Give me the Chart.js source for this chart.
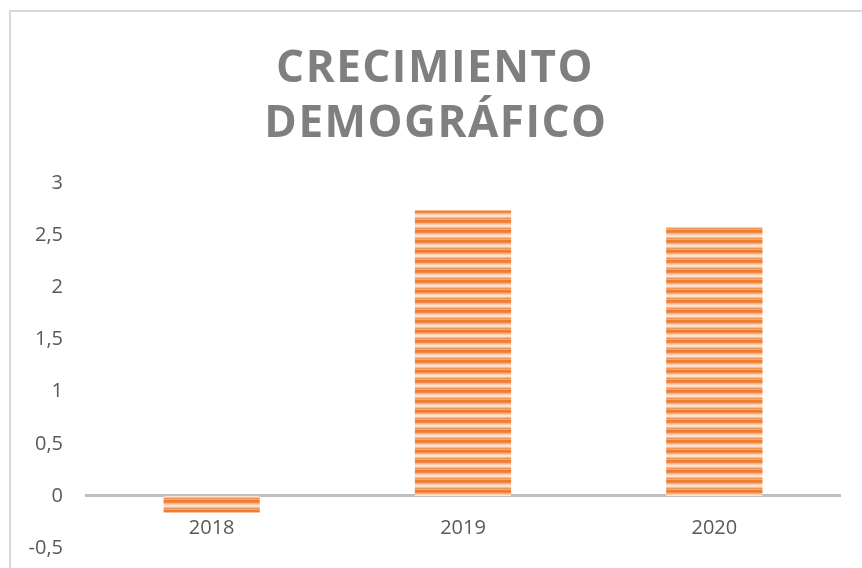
<!DOCTYPE html>
<html>
<head>
<meta charset="utf-8">
<script src="https://cdn.jsdelivr.net/npm/chart.js@4.4.0/dist/chart.umd.min.js"></script>
<style>
    html, body { margin: 0; padding: 0; background: #ffffff; overflow: hidden; }
    #wrap { position: relative; width: 862px; height: 568px; overflow: hidden; }
</style>
</head>
<body>
<div id="wrap"><canvas id="myChart" width="862" height="583"></canvas></div>
<script>
const years = ['2018', '2019', '2020'];
const growth = [-0.16, 2.74, 2.58];
const yTickLabels = ['-0,5', '0', '0,5', '1', '1,5', '2', '2,5', '3'];
const titleLines = ['CRECIMIENTO', 'DEMOGRÁFICO'];

document.addEventListener("DOMContentLoaded", function () {
    const ctx = document.getElementById('myChart');

    // striped fill like the excel texture
    function stripePattern() {
        let c = document.createElement('canvas');
        c.width = 4;
        c.height = 10;
        let g = c.getContext('2d');
        let rows = ['#ED7D31', '#ED7D31', '#EF8A48', '#F4B183', '#F8CBAD',
                    '#FBE5D6', '#FBE2D0', '#F6BD96', '#F09555', '#F4A974'];
        rows.forEach((col, i) => {
            g.fillStyle = col;
            g.fillRect(0, i, 4, 1);
        });
        return g.createPattern(c, 'repeat');
    }

    const framePlugin = {
        id: 'frame',
        beforeDraw(chart) {
            let c = chart.ctx;
            c.save();
            c.strokeStyle = '#d9d9d9';
            c.lineWidth = 2;
            c.strokeRect(10, 11, 1000, 1000);
            c.restore();
        },
        afterDraw(chart) {
            let c = chart.ctx;
            c.save();
            c.font = 'bold 44px "Open Sans"';
            c.fillStyle = '#7f7f7f';
            c.textAlign = 'center';
            c.textBaseline = 'alphabetic';
            c.letterSpacing = '1.5px';
            c.fillText(titleLines[0], 435, 82);
            c.fillText(titleLines[1], 436, 137);
            c.restore();
        }
    };

    const growthChart = new Chart(ctx, {
        type: 'bar',
        data: {
            labels: years,
            datasets: [{
                label: 'Crecimiento',
                data: growth,
                backgroundColor: stripePattern(),
                borderWidth: 0,
                categoryPercentage: 1,
                barPercentage: 0.383
            }]
        },
        options: {
            responsive: false,
            animation: false,
            layout: {
                padding: { left: 0, right: 22, top: 183.5, bottom: 5.5 }
            },
            scales: {
                x: {
                    position: { y: 0 },
                    grid: { display: false, drawTicks: false },
                    border: { color: '#bfbfbf', width: 3 },
                    ticks: {
                        color: '#595959',
                        padding: 20,
                        font: { family: '"Open Sans"', size: 20 }
                    },
                    afterFit: function (scale) {
                        scale.height = 0;
                    }
                },
                y: {
                    min: -0.5,
                    max: 3,
                    grid: { display: false, drawTicks: false },
                    border: { display: false },
                    ticks: {
                        stepSize: 0.5,
                        color: '#595959',
                        padding: 23,
                        font: { family: '"Open Sans"', size: 20 },
                        callback: function (value, index) {
                            return yTickLabels[index];
                        }
                    },
                    afterFit: function (scale) {
                        scale.width = 86;
                    }
                }
            },
            plugins: {
                legend: { display: false },
                title: { display: false },
                tooltip: { enabled: false }
            }
        },
        plugins: [framePlugin]
    });
});
</script>
</body>
</html>
